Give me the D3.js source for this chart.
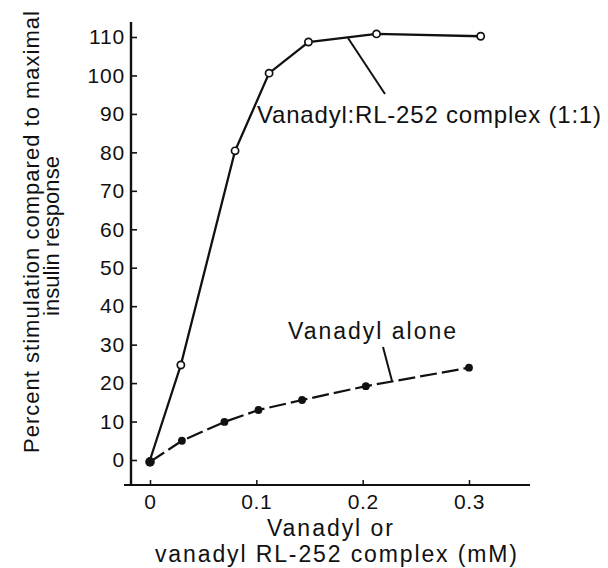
<!DOCTYPE html>
<html><head><meta charset="utf-8">
<script src="https://cdn.jsdelivr.net/npm/d3@7"></script>
<style>body{margin:0;background:#fff}svg text{font-family:"Liberation Sans",Arial,sans-serif;fill:#111}</style>
</head><body><svg id="c" width="608" height="568"></svg>
<script>
const complexX = [0, 0.029, 0.080, 0.112, 0.149, 0.213, 0.311];
const complexY = [0, 24.7, 80.4, 100.6, 108.7, 110.8, 110.2];
const aloneX = [0, 0.030, 0.070, 0.102, 0.143, 0.203, 0.300];
const aloneY = [-0.5, 5, 9.9, 13, 15.6, 19.2, 24];
const xTicks = [0, 0.1, 0.2, 0.3];
const xTickLabels = ["0", "0.1", "0.2", "0.3"];
const yTicks = [0, 10, 20, 30, 40, 50, 60, 70, 80, 90, 100, 110];

const svg = d3.select("#c");
const x = d3.scaleLinear().domain([0, 0.3]).range([150, 469]);
const y = d3.scaleLinear().domain([0, 110]).range([460, 37]);
const fs = 21;

const axX = 131, axY = 485;
svg.append("line").attr("x1", axX).attr("x2", axX).attr("y1", 22).attr("y2", axY + 1)
  .attr("stroke", "#111").attr("stroke-width", 2.4);
svg.append("line").attr("x1", axX - 7).attr("x2", 530).attr("y1", axY).attr("y2", axY)
  .attr("stroke", "#111").attr("stroke-width", 2.2);

const ya = svg.append("g").attr("transform", `translate(${axX},0)`)
  .call(d3.axisLeft(y).tickValues(yTicks).tickSizeInner(-6).tickSizeOuter(0).tickPadding(6));
ya.select(".domain").remove();
ya.selectAll("line").attr("stroke", "#111").attr("stroke-width", 1.6);
ya.selectAll("text").attr("font-size", fs).attr("letter-spacing", 0.8)
  .attr("font-family", "Liberation Sans, Arial, sans-serif").attr("fill", "#111");

const xa = svg.append("g").attr("transform", `translate(0,${axY})`)
  .call(d3.axisBottom(x).tickValues(xTicks).tickFormat((d, i) => xTickLabels[i]).tickSizeInner(-5).tickSizeOuter(0).tickPadding(9));
xa.select(".domain").remove();
xa.selectAll("line").attr("stroke", "#111").attr("stroke-width", 1.5);
xa.selectAll("text").attr("font-size", fs).attr("letter-spacing", 0.6)
  .attr("font-family", "Liberation Sans, Arial, sans-serif").attr("fill", "#111");

const complex = complexX.map((v, i) => [v, complexY[i]]);
const alone = aloneX.map((v, i) => [v, aloneY[i]]);
const line = d3.line().x(d => x(d[0])).y(d => y(d[1]));

svg.append("path").attr("d", line(complex)).attr("fill", "none")
  .attr("stroke", "#111").attr("stroke-width", 2.3);
svg.append("path").attr("d", line(alone)).attr("fill", "none")
  .attr("stroke", "#111").attr("stroke-width", 2.2).attr("stroke-dasharray", "17,5");

svg.selectAll("circle.o").data(complex.slice(1)).enter().append("circle")
  .attr("cx", d => x(d[0])).attr("cy", d => y(d[1])).attr("r", 3.6)
  .attr("fill", "#fff").attr("stroke", "#111").attr("stroke-width", 1.7);
svg.selectAll("circle.f").data(alone).enter().append("circle")
  .attr("cx", d => x(d[0])).attr("cy", d => y(d[1])).attr("r", d => d[0] === 0 ? 4.8 : 3.9)
  .attr("fill", "#111");

function label(txt, xPos, yPos, size, len, anchor) {
  return svg.append("text").attr("x", xPos).attr("y", yPos).attr("font-size", size)
    .attr("text-anchor", anchor || "start")
    .attr("textLength", len).attr("lengthAdjust", "spacing").text(txt);
}

svg.append("line").attr("x1", 348).attr("y1", 38).attr("x2", 385).attr("y2", 94)
  .attr("stroke", "#111").attr("stroke-width", 2);
label("Vanadyl:RL-252 complex (1:1)", 257, 123, 24, 344);
svg.append("line").attr("x1", 383).attr("y1", 347).attr("x2", 392).attr("y2", 381)
  .attr("stroke", "#111").attr("stroke-width", 2);
label("Vanadyl alone", 288, 339, 23, 168);

label("Vanadyl or", 330, 536, 23, 126, "middle");
label("vanadyl RL-252 complex (mM)", 336, 562, 23, 362, "middle");

const yt = svg.append("g").attr("transform", "translate(0,232) rotate(-90)");
yt.append("text").attr("x", 0).attr("y", 39).attr("text-anchor", "middle").attr("font-size", 22)
  .attr("textLength", 442).attr("lengthAdjust", "spacing")
  .text("Percent stimulation compared to maximal");
yt.append("text").attr("x", -4).attr("y", 59).attr("text-anchor", "middle").attr("font-size", 22)
  .attr("textLength", 160).attr("lengthAdjust", "spacing")
  .text("insulin response");
</script></body></html>
